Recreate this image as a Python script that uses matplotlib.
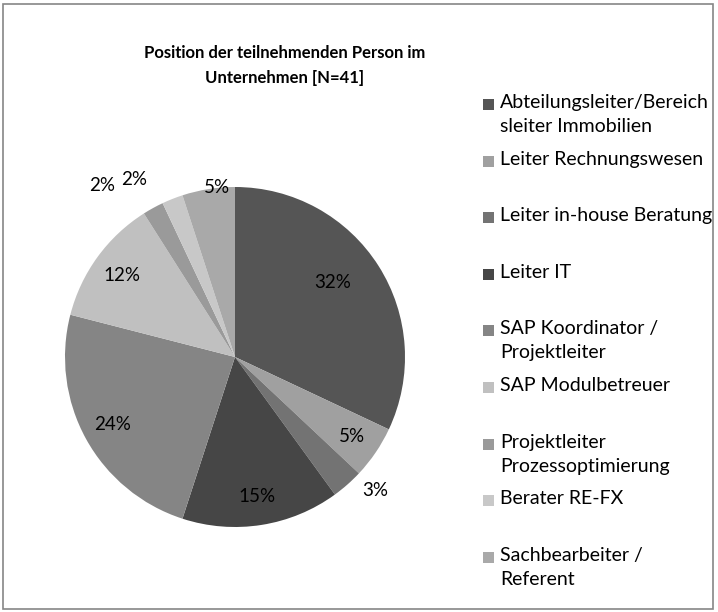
import numpy as np
import matplotlib.pyplot as plt
from matplotlib.patches import Rectangle

# Daten aus dem Diagramm
labels = ['Abteilungsleiter/Bereich\nsleiter Immobilien', 'Leiter Rechnungswesen',
          'Leiter in-house Beratung', 'Leiter IT', 'SAP Koordinator /\nProjektleiter',
          'SAP Modulbetreuer', 'Projektleiter\nProzessoptimierung', 'Berater RE-FX',
          'Sachbearbeiter /\nReferent']
shares = [32, 5, 3, 15, 24, 12, 2, 2, 5]
colors = ['#555555', '#a0a0a0', '#737373', '#464646', '#858585',
          '#c0c0c0', '#9a9a9a', '#c8c8c8', '#a9a9a9']
# Abstand der Prozentwerte vom Mittelpunkt (relativ zum Radius)
label_r = [0.72, 0.83, 1.14, 0.83, 0.82, 0.82, 1.28, 1.2, 1.0]
label_da = [5, 0, 5, 0, 0, 0, 9, 8, -3]

plt.rcParams['font.family'] = ['Lato', 'DejaVu Sans']

W, H = 718, 612
fig = plt.figure(figsize=(W / 100, H / 100), dpi=100)

# Rahmen
fig.patches.append(Rectangle((3 / W, 3 / H), 710 / W, 605 / H, transform=fig.transFigure,
                             fill=False, edgecolor='#868686', linewidth=1.2))

cx, cy, r = 235, 357, 170
ax = fig.add_axes([(cx - r) / W, (H - cy - r) / H, 2 * r / W, 2 * r / H])
wedges, _ = ax.pie(shares, colors=colors, startangle=90, counterclock=False,
                   wedgeprops=dict(linewidth=0))
ax.set_xlim(-1, 1)
ax.set_ylim(-1, 1)
ax.set_aspect('equal')

total = sum(shares)
cum = np.cumsum([0] + shares)
for i, s in enumerate(shares):
    mid = 90 - (cum[i] + s / 2) / total * 360 + label_da[i]
    a = np.deg2rad(mid)
    ax.text(label_r[i] * np.cos(a), label_r[i] * np.sin(a), f'{s}%',
            ha='center', va='center', fontsize=13.5, color='black', clip_on=False)

fig.text(285 / W, 1 - 53 / H, 'Position der teilnehmenden Person im',
         ha='center', va='center', fontsize=12, fontweight='bold')
fig.text(285 / W, 1 - 78 / H, 'Unternehmen [N=41]',
         ha='center', va='center', fontsize=12, fontweight='bold')

# Legende
for i, (lab, c) in enumerate(zip(labels, colors)):
    y = 104 + i * 56.6
    fig.patches.append(Rectangle((483 / W, 1 - (y + 6) / H), 11 / W, 11 / H,
                                 transform=fig.transFigure, facecolor=c, edgecolor='none'))
    fig.text(500 / W, 1 - (y - 10) / H, lab, ha='left', va='top', fontsize=14,
             linespacing=1.5)

fig.savefig('out.png', dpi=100)
